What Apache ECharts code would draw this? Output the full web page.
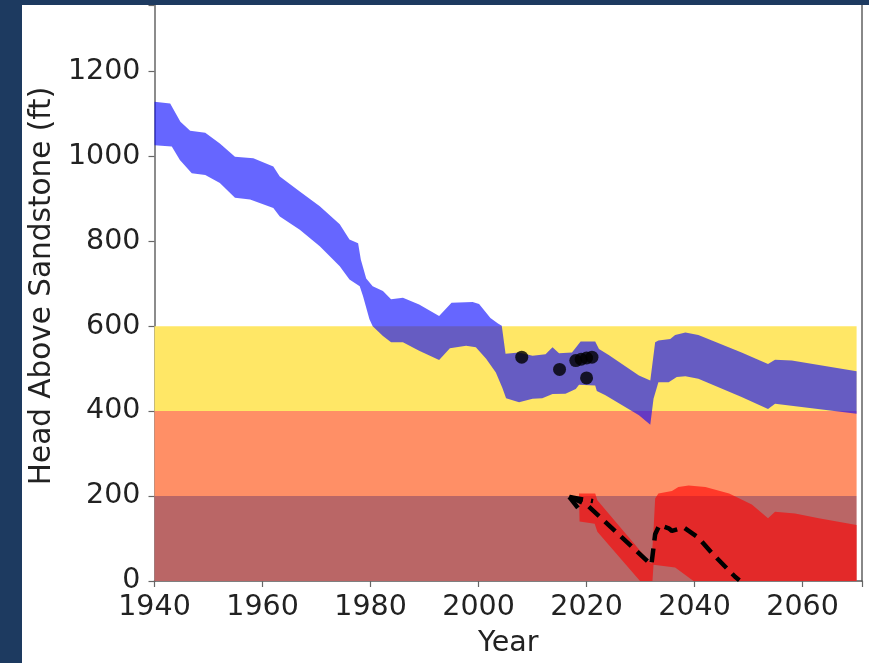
<!DOCTYPE html>
<html><head><meta charset="utf-8">
<script src="https://cdn.jsdelivr.net/npm/echarts@6/dist/echarts.min.js"></script>
<style>
html,body{margin:0;padding:0;background:#1d3a60;width:869px;height:663px;overflow:hidden}
#chart{position:absolute;left:22px;top:5px;width:847px;height:658px;background:#fff}
</style></head><body><div id="chart"></div>
<script>
// Threshold bands: [xStart, xEnd, yLow, yHigh]
const bandYellow = [1940, 2070, 400, 600];
const bandOrange = [1940, 2070, 200, 400];
const bandBrown  = [1940, 2070, 0, 200];

// Blue envelope (head range)
const blueUpper = [[1940,1128],[1942.9,1124],[1944.8,1081],[1946.6,1060],[1949.4,1055],[1952.1,1030],[1954.9,999],[1958.3,995],[1962,976],[1963.2,952],[1966.9,917],[1970.6,882],[1974.3,840],[1976.1,804],[1977.7,795],[1978.2,757],[1979.2,712],[1980.4,694],[1982.3,683],[1983.8,663],[1986,667],[1989,651],[1992.7,624],[1995,655],[1998.9,657],[2000.1,652],[2002.2,619],[2003.6,606],[2004.3,601],[2005,535],[2007.5,538],[2010,530],[2012.4,534],[2013.7,550],[2014.9,536],[2017.3,538],[2018.9,564],[2021.6,564],[2022.3,546],[2024.1,532],[2029.7,484],[2031.8,472],[2032.7,562],[2033.3,566],[2035.5,570],[2036.4,579],[2038.3,585],[2040.7,579],[2048.7,538],[2053.6,511],[2054.9,521],[2058,519],[2070,494]];
const blueLower = [[1940,1026],[1943.2,1023],[1944.7,991],[1946.9,960],[1949.4,956],[1952.1,937],[1954.9,902],[1957.7,898],[1962,878],[1963.2,858],[1966.9,827],[1970.6,788],[1974.3,741],[1976.1,710],[1978,694],[1978.6,671],[1979.8,616],[1980.4,600],[1982.3,577],[1983.8,562],[1986,562],[1989,542],[1992.7,520],[1994.7,548],[1997.7,554],[1999.5,550],[2001.4,523],[2003.2,491],[2004.4,455],[2005.1,430],[2007.5,421],[2010,429],[2011.8,430],[2013.7,440],[2016.1,441],[2018,452],[2018.6,462],[2021.6,460],[2021.9,447],[2023.5,437],[2029.7,390],[2031.8,368],[2032.4,429],[2033.3,468],[2035.2,468],[2036.7,480],[2038.3,482],[2040.7,476],[2048.7,433],[2053.6,405],[2054.9,417],[2070,394]];

// Red envelope (projected head range)
const redUpper = [[2018.6,206],[2021.6,206],[2022,190],[2032,40],[2032.4,120],[2032.7,194],[2033.3,206],[2035.8,212],[2037,221],[2038.9,225],[2042,221],[2046.4,206],[2050.6,180],[2053.6,148],[2054.9,163],[2058.6,159],[2063,148],[2070,132]];
const redLower = [[2018.6,200],[2018.7,140],[2021.5,135],[2022,116],[2029.9,0],[2032.2,0],[2032.4,38],[2036.4,32],[2039.8,0],[2070,0]];

// Dashed projection lines
const dashMain = [[2016.8,198],[2020,180],[2032,38],[2032.7,110],[2033.5,132],[2035.2,124],[2035.8,118],[2038,126],[2040.7,102],[2043.2,66],[2047.5,10],[2048.3,2]];
const dashArrowA = [[2016.8,198],[2018.9,164]];
const dashArrowB = [[2016.8,198],[2021.2,188]];

// Observations
const observed = [[2008,527],[2015,498],[2018,519],[2019,522],[2020,525],[2021,527],[2020,478]];

const xTicks = [1940,1960,1980,2000,2020,2040,2060];
const yTicks = [0,200,400,600,800,1000,1200];
const xTitle = 'Year';
const yTitle = 'Head Above Sandstone (ft)';

const FONT = 'DejaVu Sans';
const chart = echarts.init(document.getElementById('chart'), null, {renderer:'canvas'});

function rectSeries(b, color){
  return {type:'custom', data:[0], silent:true, z:1,
    renderItem:function(p, api){
      const a = api.coord([b[0], b[3]]), c = api.coord([b[1], b[2]]);
      return {type:'rect', shape:{x:a[0], y:a[1], width:c[0]-a[0], height:c[1]-a[1]}, style:{fill:color}};
    }};
}
function polySeries(up, lo, color, z){
  return {type:'custom', data:[0], silent:true, z:z,
    renderItem:function(p, api){
      const pts = up.map(q=>api.coord(q)).concat(lo.slice().reverse().map(q=>api.coord(q)));
      return {type:'polygon', shape:{points:pts}, style:{fill:color}};
    }};
}
function dashSeries(d){
  return {type:'line', data:d, showSymbol:false, silent:true, z:5,
    lineStyle:{color:'#000', width:4.5, type:[14,8], cap:'butt'}};
}

chart.setOption({
  animation:false,
  grid:{left:132.5, right:7, top:0, bottom:80, containLabel:false},
  graphic:[{type:'text', x:20, y:281, rotation:Math.PI/2,
    style:{text:yTitle, fontFamily:FONT, fontSize:29.5, fill:'#222', align:'center', verticalAlign:'middle'}}],
  xAxis:{type:'value', min:1940, max:2071, interval:20,
    axisLine:{show:true, onZero:false, lineStyle:{color:'#555', width:1.5}},
    axisTick:{show:true, length:6, lineStyle:{color:'#666', width:1.2}},
    splitLine:{show:false},
    axisLabel:{fontFamily:FONT, fontSize:28.5, color:'#222', margin:12,
      formatter:v=>xTicks.indexOf(v)>=0 ? String(v) : ''},
    name:xTitle, nameLocation:'middle', nameGap:48,
    nameTextStyle:{fontFamily:FONT, fontSize:28.5, color:'#222'}},
  yAxis:[{type:'value', min:0, max:1356, interval:200,
    axisLine:{show:true, lineStyle:{color:'#666', width:1.5}},
    axisTick:{show:true, length:6, lineStyle:{color:'#666', width:1.2}},
    splitLine:{show:false},
    axisLabel:{fontFamily:FONT, fontSize:28.5, color:'#222', margin:14,
      formatter:v=>yTicks.indexOf(v)>=0 ? String(v) : ''}},
   {type:'value', min:0, max:1356, position:'right',
    axisLine:{show:true, lineStyle:{color:'#888', width:2}},
    axisTick:{show:false}, axisLabel:{show:false}, splitLine:{show:false}}],
  series:[
    rectSeries(bandYellow, '#FFE766'),
    rectSeries(bandOrange, '#FF8F66'),
    rectSeries(bandBrown, '#BA6666'),
    polySeries(blueUpper, blueLower, 'rgba(0,0,255,0.6)', 2),
    polySeries(redUpper, redLower, 'rgba(255,0,0,0.6)', 2),
    dashSeries(dashMain),
    dashSeries(dashArrowA),
    dashSeries(dashArrowB),
    {type:'scatter', data:observed, symbolSize:13, z:6, silent:true,
      itemStyle:{color:'#000'}}
  ]
});
</script></body></html>
